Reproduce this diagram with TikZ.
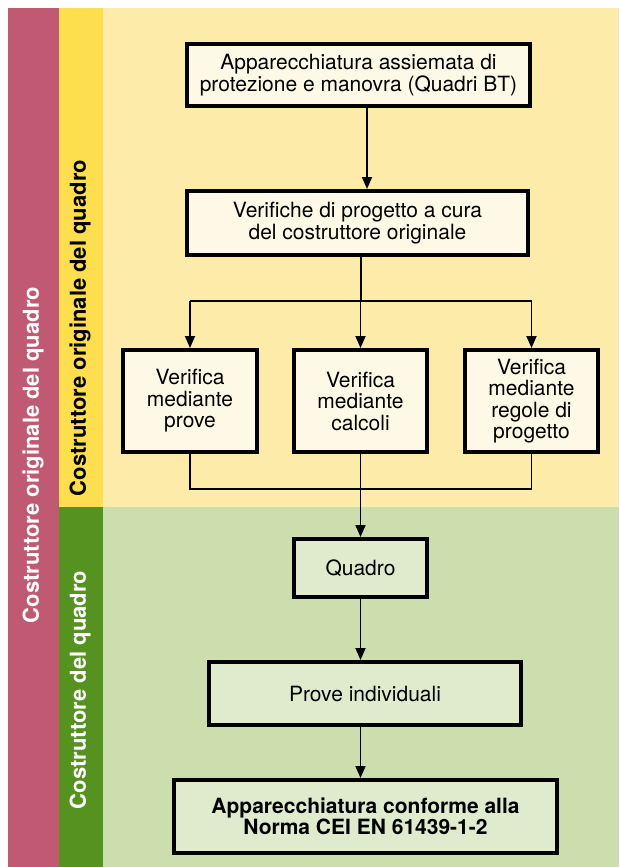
\documentclass[tikz,border=0pt]{standalone}
\usepackage{fontspec}
\setmainfont{TeX Gyre Heros}
\usetikzlibrary{arrows.meta}

\definecolor{pinkband}{HTML}{C05A72}
\definecolor{yellowband}{HTML}{FDDE4E}
\definecolor{yellowbg}{HTML}{FDEBAA}
\definecolor{yellowbox}{HTML}{FEF8E6}
\definecolor{greenband}{HTML}{55921F}
\definecolor{greenbg}{HTML}{CCDEAD}
\definecolor{greenbox}{HTML}{E0EBCE}

\begin{document}
\begin{tikzpicture}[x=1pt, y=-1pt,
stepbox/.style={draw=black, line width=4pt, align=center, inner sep=2pt,
  font=\fontsize{21}{21.5}\selectfont},
ybox/.style={stepbox, fill=yellowbox},
gbox/.style={stepbox, fill=greenbox},
bandtext/.style={rotate=90, font=\fontsize{22}{22}\selectfont\bfseries},
link/.style={line width=1.8pt},
arrow/.style={link, -{Triangle[width=10pt,length=12pt]}}
]

    % bands and backgrounds
    \useasboundingbox (0,0) rectangle (619,867);
    \fill [pinkband] (8,8) rectangle (59,867);
    \fill [yellowband] (59,8) rectangle (103,507);
    \fill [yellowbg] (103,8) rectangle (619,507);
    \fill [greenband] (59,507) rectangle (103,867);
    \fill [greenbg] (103,507) rectangle (619,867);

    \node [bandtext, white] (tpink) at (33,455) {Costruttore originale del quadro};
    \node [bandtext, black] (tyellow) at (80,328) {Costruttore originale del quadro};
    \node [bandtext, white] (tgreen) at (80,690) {Costruttore del quadro};

    % boxes
    \node [ybox, minimum width=343pt, minimum height=62pt] (quadri) at (358.5,75)
        {Apparecchiatura assiemata di\\protezione e manovra (Quadri BT)};
    \node [ybox, minimum width=341pt, minimum height=64pt] (verif) at (357.5,223)
        {Verifiche di progetto a cura\\del costruttore originale};

    \node [ybox, minimum width=134pt, minimum height=102pt] (prove) at (190,401)
        {Verifica\\mediante\\prove};
    \node [ybox, minimum width=133pt, minimum height=102pt] (calcoli) at (360.5,401)
        {Verifica\\mediante\\calcoli};
    \node [ybox, minimum width=133pt, minimum height=102pt] (regole) at (531.5,401)
        {Verifica\\mediante\\regole di\\progetto};

    \node [gbox, minimum width=133pt, minimum height=58pt] (quadro) at (360.5,568) {Quadro};
    \node [gbox, minimum width=312pt, minimum height=63pt] (indiv) at (365,693.5) {Prove individuali};
    \node [gbox, minimum width=383pt, minimum height=73pt, font=\fontsize{21}{21.5}\selectfont\bfseries]
        (conforme) at (365.5,816.5) {Apparecchiatura conforme alla\\Norma CEI EN 61439-1-2};

    % connectors
    \coordinate (split) at (361,301);
    \coordinate (join) at (361,489);

    \draw [arrow] ([xshift=8.5pt]quadri.south) -- ([xshift=8.5pt]quadri.south |- verif.north);
    \draw [link] (verif.south -| split) -- (split);
    \draw [link] (split -| prove) -- (split -| regole);
    \draw [arrow] (split -| prove) -- (prove.north);
    \draw [arrow] (split -| calcoli) -- (calcoli.north);
    \draw [arrow] (split -| regole) -- (regole.north);

    \draw [link] (prove.south) -- (prove.south |- join) -- (regole.south |- join) -- (regole.south);
    \draw [arrow] (calcoli.south) -- (quadro.north);
    \draw [arrow] (quadro.south) -- (quadro.south |- indiv.north);
    \draw [arrow] (quadro.south |- indiv.south) -- (quadro.south |- conforme.north);

\end{tikzpicture}
\end{document}
